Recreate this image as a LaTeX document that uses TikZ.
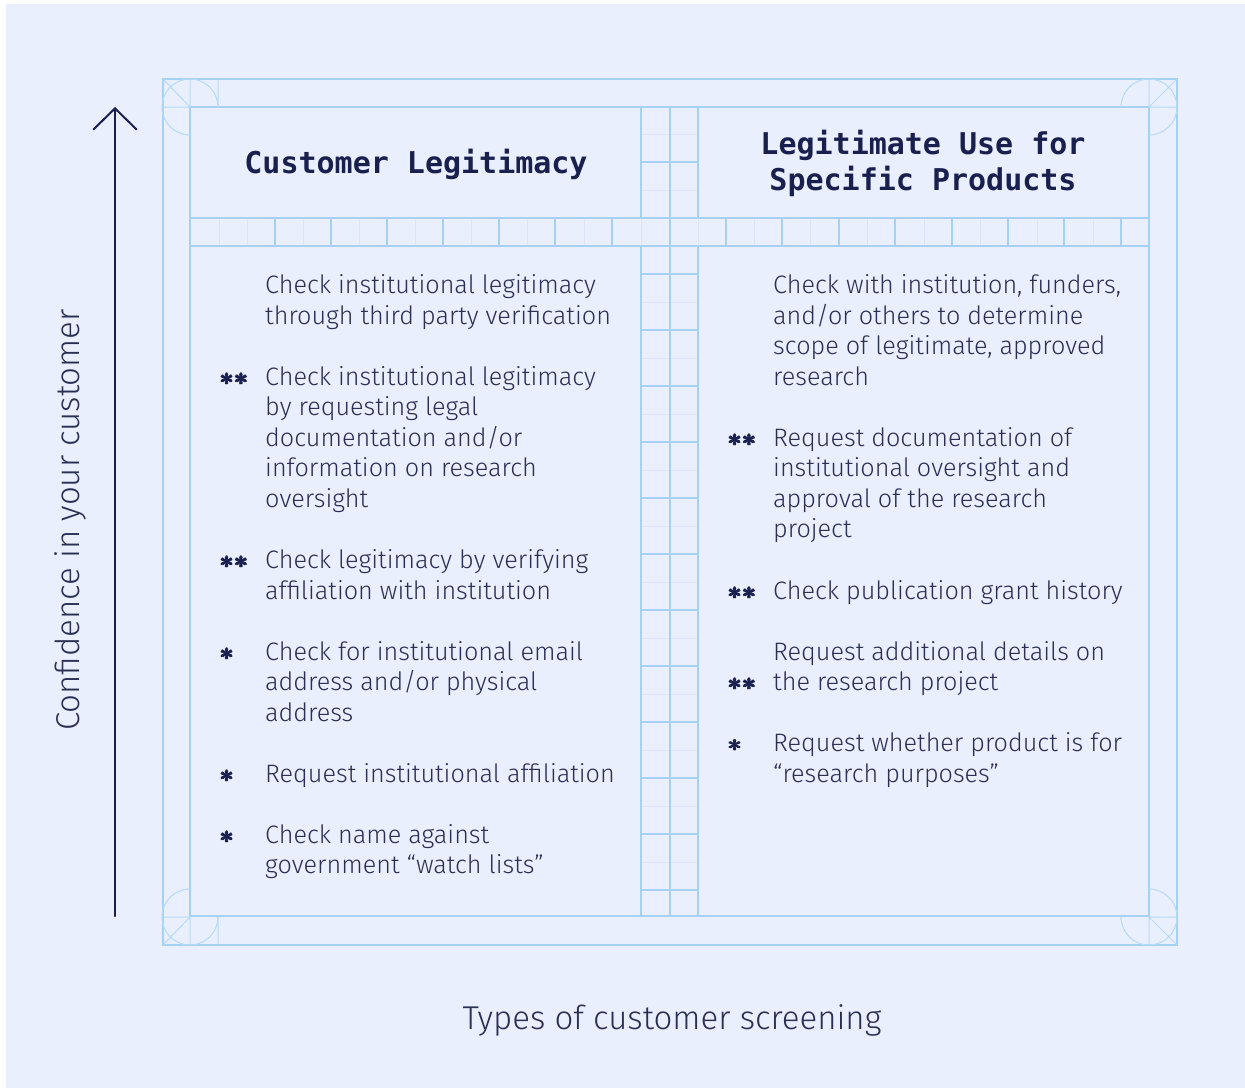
\documentclass[tikz,border=0pt]{standalone}
\usepackage{amsmath}
\usepackage{fontspec}
\IfFontExistsTF{Fira Sans Light}
	{\setmainfont{Fira Sans Light}}
	{\setmainfont{Open Sans}}
\newfontfamily\headfont{DejaVu Sans Mono}
\usetikzlibrary{arrows.meta}

\definecolor{paper}{RGB}{233,239,253}
\definecolor{gridline}{RGB}{165,210,242}
\definecolor{gridfaint}{RGB}{219,229,247}
\definecolor{ink}{RGB}{26,32,78}
\definecolor{inkbody}{RGB}{42,48,82}

\newcommand{\onestar}{$\pmb{\ast}$}
\newcommand{\twostars}{$\pmb{\ast}\pmb{\ast}$}

\tikzset{
	frame/.style={
		draw=gridline,
		line width=2pt,
	},
	faint/.style={
		draw=gridfaint,
		line width=1pt,
	},
	ornament/.style={
		draw=gridline!80,
		line width=1pt,
	},
	head/.style={
		font=\headfont\bfseries\fontsize{30}{36}\selectfont,
		text=ink,
		align=center,
		inner sep=0pt,
	},
	% base anchor of a multi-line node sits on its last line
	check/.style={
		font=\fontsize{25.2}{30.55}\selectfont,
		text=inkbody,
		align=left,
		anchor=base west,
		inner sep=0pt,
	},
	stars/.style={
		font=\boldmath\fontsize{29}{30}\selectfont,
		text=ink,
		anchor=base west,
		inner sep=0pt,
	},
	axislabel/.style={
		font=\fontsize{33}{40}\selectfont,
		text=inkbody,
		inner sep=0pt,
	},
	axis/.style={
		draw=ink,
		line width=2pt,
		line cap=round,
		-{Straight Barb[length=21pt,width=43pt,line cap=round]}
	},
}

\begin{document}
\begin{tikzpicture}[x=1pt,y=-1pt]
	\useasboundingbox (0,0) rectangle (1245,1088);
	\fill[white] (0,0) rectangle (1245,1088);
	\fill[paper] (6,4) rectangle (1245,1088);

	% faint sub-grid
	\foreach \x in {219,247,303,359,415,471,527,584,641,698,754,810,867,924,980,1037,1093}
		\draw[faint] (\x,218) -- (\x,246);
	\foreach \y in {134,190,302,358,414,470,526,582,638,694,750,806,862}
		\draw[faint] (641,\y) -- (698,\y);

	% main grid
	\foreach \x in {275,331,387,443,499,555,612,726,782,839,895,952,1008,1064,1121}
		\draw[frame] (\x,218) -- (\x,246);
	\foreach \y in {162,274,330,386,442,498,554,610,666,722,778,834,890}
		\draw[frame] (641,\y) -- (698,\y);

	\draw[frame] (163,79) rectangle (1177,945);
	\draw[frame] (190,107) rectangle (1149,916);
	\draw[frame] (190,218) -- (1149,218);
	\draw[frame] (190,246) -- (1149,246);
	\draw[frame] (641,107) -- (641,218) (641,246) -- (641,916);
	\draw[frame] (698,107) -- (698,218) (698,246) -- (698,916);
	\draw[frame] (670,107) -- (670,916);

	% corner ornaments
	\draw[ornament] (163,79) -- (190,107) (190,79) -- (190,107) (163,107) -- (190,107) (218,79) -- (218,107);
	\draw[ornament] (190,135) arc[start angle=90, end angle=360, radius=28];
	\draw[ornament] (1177,79) -- (1149,107) (1149,79) -- (1149,107) (1149,107) -- (1177,107);
	\draw[ornament] (1121,107) arc[start angle=180, end angle=450, radius=28];
	\draw[ornament] (163,945) -- (190,917) (190,917) -- (190,945) (163,917) -- (190,917) (218,917) -- (218,945);
	\draw[ornament] (190,889) arc[start angle=270, end angle=0, radius=28];
	\draw[ornament] (1177,945) -- (1149,917) (1149,917) -- (1149,945) (1149,917) -- (1177,917);
	\draw[ornament] (1149,889) arc[start angle=270, end angle=540, radius=28];

	% headers
	\node[head, anchor=base] (lhead) at (416,173) {Customer Legitimacy};
	\node[head, anchor=base] (rhead) at (923,190) {Legitimate Use for\\Specific Products};

	% left column
	\node[check] (lc1) at (265,324.05) {Check institutional legitimacy\\through third party verification};
	\node[check] (lc2) at (265,507.4) {Check institutional legitimacy\\by requesting legal\\documentation and/or\\information on research\\oversight};
	\node[check] (lc3) at (265,599.05) {Check legitimacy by verifying\\affiliation with institution};
	\node[check] (lc4) at (265,721.2) {Check for institutional email\\address and/or physical\\address};
	\node[check] (lc5) at (265,782.3) {Request institutional affiliation};
	\node[check] (lc6) at (265,873.95) {Check name against\\government “watch lists”};

	\node[stars] (ls2) at (220,385.2) {\twostars};
	\node[stars] (ls3) at (220,568.5) {\twostars};
	\node[stars] (ls4) at (220,660.1) {\onestar};
	\node[stars] (ls5) at (220,782.3) {\onestar};
	\node[stars] (ls6) at (220,843.4) {\onestar};

	% right column
	\node[check] (rc1) at (773,385.15) {Check with institution, funders,\\and/or others to determine\\scope of legitimate, approved\\research};
	\node[check] (rc2) at (773,537.95) {Request documentation of\\institutional oversight and\\approval of the research\\project};
	\node[check] (rc3) at (773,599) {Check publication grant history};
	\node[check] (rc4) at (773,690.65) {Request additional details on\\the research project};
	\node[check] (rc5) at (773,782.35) {Request whether product is for\\“research purposes”};

	\node[stars] (rs2) at (728,446.3) {\twostars};
	\node[stars] (rs3) at (728,599) {\twostars};
	\node[stars] (rs4) at (728,690.7) {\twostars};
	\node[stars] (rs5) at (728,751.8) {\onestar};

	% axes
	\coordinate (yfoot) at (115,916);
	\coordinate (ytip) at (115,107);
	\draw[axis] (yfoot) -- (ytip);
	\node[axislabel, rotate=90] (ylab) at (70,520) {Confidence in your customer};
	\node[axislabel] (xlab) at (672,1020) {Types of customer screening};
\end{tikzpicture}
\end{document}
